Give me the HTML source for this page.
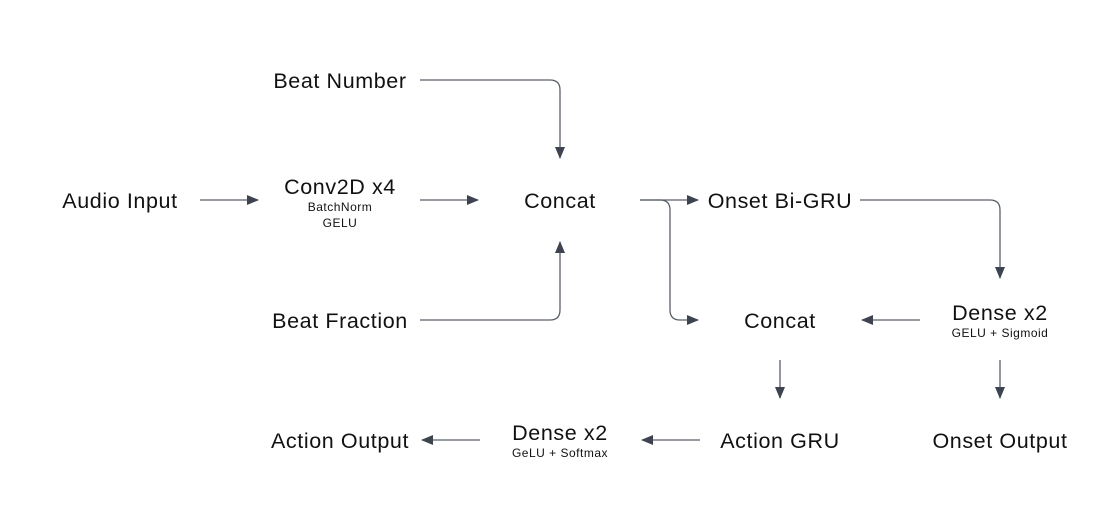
<!DOCTYPE html>
<html><head><style>
html,body{margin:0;padding:0;background:#fff;}
svg{display:block;}
text{font-family:"Liberation Sans",sans-serif;fill:#111;}
.m{font-size:21.5px;letter-spacing:0.6px;}
.s{font-size:12px;letter-spacing:0.5px;}
</style></head><body>
<svg width="1120" height="520" viewBox="0 0 1120 520" xmlns="http://www.w3.org/2000/svg">
<defs>
<marker id="a" markerWidth="12" markerHeight="10" refX="11" refY="5" orient="auto" markerUnits="userSpaceOnUse">
<path d="M0,0 L12,5 L0,10 Z" fill="#3d4450"/>
</marker>
</defs>
<g fill="none" stroke="#5a606a" stroke-width="1.3">
<path d="M200,200 H258" marker-end="url(#a)"/>
<path d="M420,200 H478" marker-end="url(#a)"/>
<path d="M420,80 H550 Q560,80 560,90 V158" marker-end="url(#a)"/>
<path d="M420,320 H550 Q560,320 560,310 V242" marker-end="url(#a)"/>
<path d="M640,200 H698" marker-end="url(#a)"/>
<path d="M640,200 H660 Q670,200 670,210 V310 Q670,320 680,320 H698" marker-end="url(#a)"/>
<path d="M860,200 H990 Q1000,200 1000,210 V278" marker-end="url(#a)"/>
<path d="M920,320 H862" marker-end="url(#a)"/>
<path d="M780,360 V398" marker-end="url(#a)"/>
<path d="M1000,360 V398" marker-end="url(#a)"/>
<path d="M700,440 H642" marker-end="url(#a)"/>
<path d="M480,440 H422" marker-end="url(#a)"/>
</g>
<g text-anchor="middle">
<text class="m" x="120" y="208">Audio Input</text>
<text class="m" x="340" y="194">Conv2D x4</text>
<text class="s" x="340" y="211">BatchNorm</text>
<text class="s" x="340" y="227">GELU</text>
<text class="m" x="340" y="88">Beat Number</text>
<text class="m" x="340" y="328">Beat Fraction</text>
<text class="m" x="560" y="208">Concat</text>
<text class="m" x="780" y="208">Onset Bi-GRU</text>
<text class="m" x="1000" y="320">Dense x2</text>
<text class="s" x="1000" y="337">GELU + Sigmoid</text>
<text class="m" x="780" y="328">Concat</text>
<text class="m" x="780" y="448">Action GRU</text>
<text class="m" x="1000" y="448">Onset Output</text>
<text class="m" x="560" y="440">Dense x2</text>
<text class="s" x="560" y="457">GeLU + Softmax</text>
<text class="m" x="340" y="448">Action Output</text>
</g>
</svg>
</body></html>
